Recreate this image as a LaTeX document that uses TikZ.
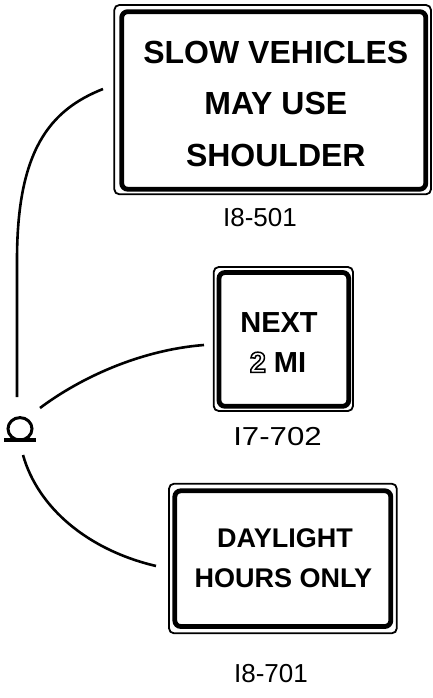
\documentclass[tikz,border=0pt]{standalone}
\usepackage{fontspec}
\setmainfont{Liberation Sans}
\usepackage{xcolor}
\newcommand\outlinedchar[1]{\leavevmode
  \special{pdf:literal direct 1 Tr 1.5 w}#1\special{pdf:literal direct 0 Tr}}
\tikzset{
  outerframe/.style={draw=black, line width=1.8pt, rounded corners=5pt, fill=white},
  innerframe/.style={draw=black, line width=4.8pt, rounded corners=6pt},
  signtextA/.style={anchor=base, inner sep=0pt, font=\fontsize{32}{38}\selectfont\bfseries},
  signtextB/.style={anchor=base, inner sep=0pt, font=\fontsize{29}{34}\selectfont\bfseries},
  signtextC/.style={anchor=base, inner sep=0pt, font=\fontsize{27}{32}\selectfont\bfseries},
  codelabel/.style={anchor=center, inner sep=0pt, font=\fontsize{26}{30}\selectfont},
  connector/.style={draw=black, line width=2.6pt},
}
\begin{document}
\begin{tikzpicture}[x=1pt, y=-1pt]
\useasboundingbox (0,0) rectangle (433,698);
\fill[white] (0,0) rectangle (433,698);

% Sign 1
\draw[outerframe] (114.3,5) rectangle (431,194.3);
\draw[innerframe] (121.7,11.7) rectangle (425.8,189.2);
\node[signtextA] (s1a) at (275.8,63.5) {SLOW VEHICLES};
\node[signtextA] (s1b) at (275.8,114.5) {MAY USE};
\node[signtextA] (s1c) at (275.8,166.5) {SHOULDER};
\node[codelabel] (l1) at (260,218) {I8-501};

% Sign 2
\draw[outerframe] (213.7,267) rectangle (353,411);
\draw[innerframe] (219,272.5) rectangle (348.7,406.3);
\node[signtextB] (s2a) at (279,332.4) {NEXT};
\node[signtextB] (s2b) at (278,372.4) {\outlinedchar{2} MI};
\node[codelabel, xscale=1.2] (l2) at (277.5,436.5) {I7-702};

% Sign 3
\draw[outerframe] (169,483.7) rectangle (396.8,633.3);
\draw[innerframe] (174.8,490.8) rectangle (390.8,626.5);
\node[signtextC] (s3a) at (285,547.7) {DAYLIGHT};
\node[signtextC] (s3b) at (283.3,587.7) {HOURS ONLY};
\node[codelabel] (l3) at (271,674) {I8-701};

% Pole symbol
\draw[line width=3pt] (20,428.8) ellipse (12 and 11.2);
\draw[line width=3.3pt] (4,440) -- (36,440);

% Connectors
\coordinate (p1) at (17,397);
\coordinate (p2) at (40,408);
\coordinate (p3) at (23,455);
\coordinate (e1) at (103,89);
\coordinate (e2) at (204,345);
\coordinate (e3) at (156,566);
\draw[connector] (p1) -- (17,260) .. controls (17,150) and (50,110) .. (e1);
\draw[connector] (p2) .. controls (80,378) and (140,350) .. (e2);
\draw[connector] (p3) .. controls (38,508) and (88,550) .. (e3);
\end{tikzpicture}
\end{document}
